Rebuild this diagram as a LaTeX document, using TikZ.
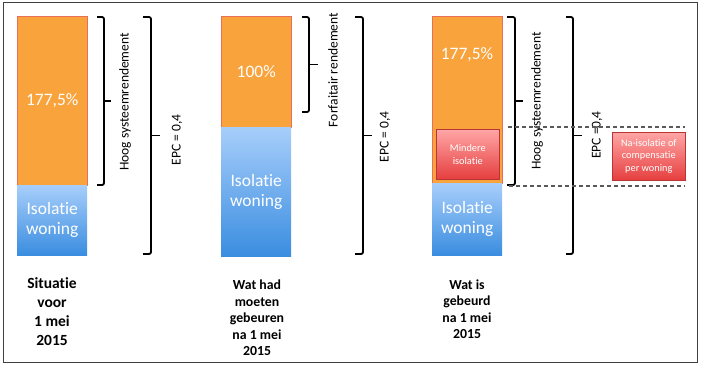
\documentclass[tikz,border=0pt]{standalone}
\usepackage{fontspec}
\setmainfont{Carlito}[Ligatures={NoCommon,NoDiscretionary,NoRare,NoContextual}]
\usetikzlibrary{calc}
\definecolor{barorange}{HTML}{F9A33C}
\definecolor{orangeedge}{HTML}{E8705A}
\definecolor{bluetop}{HTML}{A7CEFB}
\definecolor{bluebot}{HTML}{3A8DE0}
\definecolor{redtop}{HTML}{FFA6A6}
\definecolor{redbot}{HTML}{E63E3E}
\definecolor{rededge}{HTML}{B83535}
\newcommand{\squarebrace}[4]{% top coord, bottom coord, depth, tip length
  \draw[bracket] (#1) -- ++(#3,0) -- ($(#2)+(#3,0)$) -- (#2);
  \draw[bracket] ($(#1)!.5!(#2)+(#3,0)$) -- ++(#4,0);
}
\begin{document}
\begin{tikzpicture}[x=1pt,y=-1pt,
  orangebar/.style={draw=orangeedge, line width=0.6pt, fill=barorange, anchor=north west, inner sep=0pt, minimum width=70pt, text=white, font=\fontsize{17.5}{20}\selectfont},
  bluebar/.style={draw=none, top color=bluetop, bottom color=bluebot, anchor=north west, inner sep=0pt, minimum width=70pt, text=white, align=center, font=\fontsize{17.5}{20}\selectfont},
  redbox/.style={draw=rededge, line width=0.6pt, top color=redtop, bottom color=redbot, anchor=north west, inner sep=0pt, text=white, align=center, font=\fontsize{10.3}{12.5}\selectfont},
  bigtxt/.style={text=white, inner sep=0pt, font=\fontsize{17.5}{20}\selectfont},
  sidetxt/.style={rotate=90, inner sep=0pt, font=\fontsize{13.5}{16}\selectfont},
  bracket/.style={line width=1.8pt, rounded corners=2pt, line cap=butt},
  caplbl/.style={align=center, inner sep=0pt, font=\bfseries\fontsize{13.8}{16.5}\selectfont},
  dashln/.style={draw=black!65, line width=1.2pt, dash pattern=on 4pt off 3pt},
]
\useasboundingbox (0,0) rectangle (701,365);
\node[draw=black!75, line width=1.2pt, anchor=north west, minimum width=694pt, minimum height=360pt, inner sep=0pt] (frame) at (3,2) {};

% Column 1
\node[orangebar, minimum height=169pt] (o1) at (17,16) {177,5\%};
\node[bluebar, minimum height=70pt] (b1) at (17,185) {Isolatie\\woning};
\coordinate (h1a) at (97,17); \coordinate (h1b) at (97,185);
\squarebrace{h1a}{h1b}{7}{7}
\node[sidetxt] (t1) at (125,102) {Hoog systeemrendement};
\coordinate (e1a) at (143,17); \coordinate (e1b) at (143,254);
\squarebrace{e1a}{e1b}{8}{9}
\node[sidetxt] (t2) at (177,140) {EPC = 0,4};
\node[caplbl, font=\bfseries\fontsize{15.5}{19}\selectfont] (c1) at (52,312) {Situatie\\voor\\1 mei\\2015};

% Column 2
\node[orangebar, minimum height=111pt] (o2) at (221,16) {100\%};
\node[bluebar, minimum height=129pt] (b2) at (221,127) {Isolatie\\woning};
\coordinate (f2a) at (302,17); \coordinate (f2b) at (302,112);
\squarebrace{f2a}{f2b}{7}{9}
\node[sidetxt] (t3) at (333,70) {Forfaitair rendement};
\coordinate (e2a) at (355,17); \coordinate (e2b) at (355,254);
\squarebrace{e2a}{e2b}{8}{9}
\node[sidetxt] (t4) at (385,137) {EPC = 0,4};
\node[caplbl] (c2) at (257,318) {Wat had\\moeten\\gebeuren\\na 1 mei\\2015};

% Column 3
\node[orangebar, minimum height=167pt] (o3) at (432,16) {};
\node[bigtxt] (p3) at (467,55) {177,5\%};
\node[redbox, minimum width=63pt, minimum height=50pt] (m3) at (436,129) {Mindere\\isolatie};
\node[bluebar, minimum height=72pt] (b3) at (432,183) {Isolatie\\woning};
\coordinate (h3a) at (507,17); \coordinate (h3b) at (507,185);
\squarebrace{h3a}{h3b}{8}{8}
\node[sidetxt] (t5) at (537,101) {Hoog systeemrendement};
\coordinate (e3a) at (566,17); \coordinate (e3b) at (566,254);
\squarebrace{e3a}{e3b}{7}{9}
\node[sidetxt] (t6) at (597,135) {EPC =0,4};
\coordinate (d1a) at (508,127); \coordinate (d1b) at (685,127);
\coordinate (d2a) at (509,186); \coordinate (d2b) at (685,186);
\draw[dashln] (d1a) -- (d1b);
\draw[dashln] (d2a) -- (d2b);
\node[redbox, minimum width=73pt, minimum height=48pt] (n3) at (612,132) {Na-isolatie of\\compensatie\\per woning};
\node[caplbl] (c3) at (467,309) {Wat is\\gebeurd\\na 1 mei\\2015};
\end{tikzpicture}
\end{document}
